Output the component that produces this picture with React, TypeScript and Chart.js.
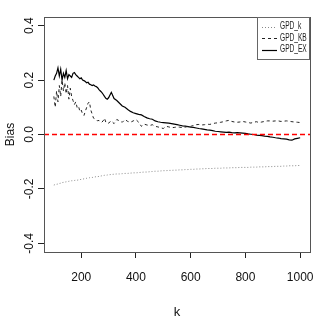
import React, { useEffect, useRef } from "react";
import { Chart, registerables } from "chart.js";
Chart.register(...registerables);

const K = [
  100, 105, 110, 115, 120, 125, 130, 135, 140, 145, 150, 155, 160, 165, 170, 175, 180, 185, 190, 195,
  200, 205, 210, 215, 220, 225, 230, 235, 240, 245, 250, 255, 260, 265, 270, 275, 280, 285, 290, 295, 300,
  310, 320, 330, 340, 350, 360, 370, 380, 390, 400, 410, 420, 430, 440, 450, 460, 470, 480, 490, 500,
  510, 520, 530, 540, 550, 560, 570, 580, 590, 600, 610, 620, 630, 640, 650, 660, 670, 680, 690, 700,
  710, 720, 730, 740, 750, 760, 770, 780, 790, 800, 810, 820, 830, 840, 850, 860, 870, 880, 890, 900,
  910, 920, 930, 940, 950, 960, 970, 980, 990, 1000,
];

const GPD_K = [
  -0.186, -0.184, -0.183, -0.182, -0.18, -0.179, -0.177, -0.176, -0.175, -0.174, -0.173, -0.172, -0.171, -0.17, -0.17, -0.169, -0.168, -0.168, -0.167, -0.166,
  -0.165, -0.164, -0.163, -0.162, -0.161, -0.16, -0.159, -0.158, -0.158, -0.157, -0.156, -0.155, -0.155, -0.154, -0.153, -0.152, -0.151, -0.15, -0.15, -0.149, -0.148,
  -0.147, -0.146, -0.145, -0.145, -0.144, -0.143, -0.143, -0.142, -0.141, -0.141, -0.14, -0.139, -0.138, -0.138, -0.137, -0.136, -0.135, -0.135, -0.134, -0.133,
  -0.133, -0.132, -0.132, -0.131, -0.131, -0.13, -0.13, -0.129, -0.129, -0.128, -0.128, -0.127, -0.127, -0.126, -0.126, -0.125, -0.125, -0.125, -0.124, -0.124,
  -0.124, -0.123, -0.123, -0.123, -0.122, -0.122, -0.122, -0.121, -0.121, -0.121, -0.121, -0.12, -0.12, -0.12, -0.119, -0.119, -0.119, -0.118, -0.118, -0.118,
  -0.117, -0.117, -0.117, -0.116, -0.116, -0.115, -0.115, -0.115, -0.114, -0.114,
];

const GPD_KB = [
  0.14, 0.1, 0.16, 0.12, 0.18, 0.14, 0.2, 0.16, 0.19, 0.15, 0.18, 0.13, 0.17, 0.14, 0.125, 0.11, 0.12, 0.1, 0.105, 0.085,
  0.09, 0.075, 0.07, 0.085, 0.1, 0.115, 0.12, 0.09, 0.075, 0.06, 0.058, 0.055, 0.05, 0.052, 0.048, 0.045, 0.05, 0.06, 0.045, 0.04, 0.042,
  0.05, 0.04, 0.055, 0.05, 0.045, 0.055, 0.048, 0.045, 0.05, 0.055, 0.045, 0.03, 0.038, 0.035, 0.033, 0.036, 0.03, 0.028, 0.025, 0.022,
  0.03, 0.028, 0.025, 0.026, 0.028, 0.027, 0.025, 0.027, 0.03, 0.03, 0.033, 0.036, 0.037, 0.035, 0.036, 0.038, 0.037, 0.04, 0.042, 0.043,
  0.045, 0.047, 0.05, 0.052, 0.048, 0.046, 0.045, 0.046, 0.048, 0.046, 0.044, 0.042, 0.045, 0.047, 0.044, 0.046, 0.048, 0.05, 0.05, 0.049,
  0.05, 0.05, 0.048, 0.049, 0.05, 0.049, 0.047, 0.046, 0.045, 0.044,
];

const GPD_EX = [
  0.2, 0.215, 0.225, 0.245, 0.215, 0.24, 0.2, 0.225, 0.21, 0.235, 0.205, 0.22, 0.215, 0.21, 0.225, 0.228, 0.22, 0.215, 0.21, 0.205,
  0.208, 0.2, 0.198, 0.195, 0.19, 0.192, 0.185, 0.183, 0.18, 0.182, 0.178, 0.176, 0.172, 0.165, 0.16, 0.155, 0.148, 0.14, 0.133, 0.13, 0.135,
  0.155, 0.132, 0.125, 0.115, 0.105, 0.1, 0.092, 0.085, 0.08, 0.077, 0.074, 0.072, 0.066, 0.061, 0.058, 0.056, 0.05, 0.047, 0.045, 0.044,
  0.043, 0.042, 0.04, 0.038, 0.036, 0.034, 0.032, 0.031, 0.029, 0.027, 0.026, 0.024, 0.022, 0.021, 0.019, 0.017, 0.016, 0.014, 0.012, 0.011,
  0.01, 0.009, 0.008, 0.009, 0.007, 0.006, 0.007, 0.006, 0.005, 0.004, 0.002, 0.001, 0.0, -0.002, -0.003, -0.004, -0.006, -0.007, -0.009, -0.01,
  -0.012, -0.013, -0.015, -0.016, -0.017, -0.02, -0.021, -0.016, -0.014, -0.012,
];

const SERIES_LABELS = ["GPD_k", "GPD_KB", "GPD_EX"];
const X_TICKS = [200, 400, 600, 800, 1000];
const Y_TICKS = [-0.4, -0.2, 0, 0.2, 0.4];
const X_TITLE = "k";
const Y_TITLE = "Bias";
const X_RANGE = [64, 1036];
const Y_RANGE = [-0.432, 0.432];
const REF_LINE = 0;

const NARROW = '"Liberation Sans Narrow", "Arial Narrow", "Liberation Sans", sans-serif';
const SANS = '"Liberation Sans", Arial, sans-serif';

const decorPlugin = {
  id: "decor",
  afterDatasetsDraw(chart: any) {
    const { ctx, chartArea: a, scales } = chart;
    const y0 = scales.y.getPixelForValue(REF_LINE);
    ctx.save();
    ctx.strokeStyle = "#ff0000";
    ctx.lineWidth = 1.5;
    ctx.setLineDash([5, 3]);
    ctx.beginPath();
    ctx.moveTo(a.left, y0);
    ctx.lineTo(a.right, y0);
    ctx.stroke();
    ctx.restore();

    // box
    ctx.save();
    ctx.strokeStyle = "#555";
    ctx.lineWidth = 1;
    ctx.strokeRect(a.left + 0.5, a.top + 0.5, a.right - a.left, a.bottom - a.top);
    ctx.restore();

    // legend
    const lx = a.right - 53;
    const ly = a.top;
    const lw = 52;
    const lh = 42;
    ctx.save();
    ctx.fillStyle = "#fff";
    ctx.fillRect(lx, ly, lw, lh);
    ctx.strokeStyle = "#666";
    ctx.lineWidth = 1;
    ctx.strokeRect(lx + 0.5, ly + 0.5, lw, lh);
    const rows = [ly + 9.5, ly + 21, ly + 32.5];
    chart.data.datasets.forEach((ds: any, i: number) => {
      const y = rows[i];
      ctx.save();
      ctx.strokeStyle = ds.borderColor;
      ctx.lineWidth = ds.borderWidth;
      ctx.setLineDash(ds.borderDash || []);
      ctx.beginPath();
      ctx.moveTo(lx + 5, Math.round(y) + 0.5);
      ctx.lineTo(lx + 20, Math.round(y) + 0.5);
      ctx.stroke();
      ctx.restore();
      ctx.save();
      ctx.fillStyle = "#222";
      ctx.font = "10px " + SANS;
      ctx.textBaseline = "middle";
      ctx.translate(lx + 23, y);
      ctx.scale(0.66, 1);
      ctx.fillText(ds.label, 0, 0);
      ctx.restore();
    });
    ctx.restore();
  },
};

export default function App() {
  const ref = useRef<HTMLCanvasElement>(null);
  useEffect(() => {
    document.body.style.margin = "0";
    const styles = [
      { color: "#888", dash: [1, 2], width: 1 },
      { color: "#222", dash: [3, 3], width: 1 },
      { color: "#000", dash: [], width: 1.2 },
    ];
    const series = [GPD_K, GPD_KB, GPD_EX];
    const chart = new Chart(ref.current as HTMLCanvasElement, {
      type: "line",
      data: {
        datasets: series.map((s, i) => ({
          label: SERIES_LABELS[i],
          data: K.map((k, j) => ({ x: k, y: s[j] })),
          borderColor: styles[i].color,
          borderDash: styles[i].dash,
          borderWidth: styles[i].width,
          pointRadius: 0,
          tension: 0,
          fill: false,
        })),
      },
      options: {
        responsive: true,
        maintainAspectRatio: false,
        animation: false,
        events: [],
        layout: { padding: { left: 0, top: 17, right: 10, bottom: 0 } },
        plugins: { legend: { display: false }, tooltip: { enabled: false } },
        scales: {
          x: {
            type: "linear",
            min: X_RANGE[0],
            max: X_RANGE[1],
            afterBuildTicks: (s: any) => {
              s.ticks = X_TICKS.map((v) => ({ value: v }));
            },
            afterFit: (s: any) => {
              s.height = 75;
              s.paddingLeft = 0;
              s.paddingRight = 0;
            },
            grid: { drawOnChartArea: false, drawTicks: true, tickLength: 6, tickColor: "#222" },
            border: { display: false },
            ticks: {
              autoSkip: false,
              maxRotation: 0,
              minRotation: 0,
              padding: 12,
              color: "#111",
              font: { family: NARROW, size: 12 },
              callback: (v: any) => String(v),
            },
            title: {
              display: true,
              text: X_TITLE,
              color: "#111",
              font: { family: NARROW, size: 13 },
              padding: { top: 0, bottom: 7 },
            },
          },
          y: {
            type: "linear",
            min: Y_RANGE[0],
            max: Y_RANGE[1],
            afterBuildTicks: (s: any) => {
              s.ticks = Y_TICKS.map((v) => ({ value: v }));
            },
            afterFit: (s: any) => {
              s.width = 44;
              s.paddingTop = 0;
              s.paddingBottom = 0;
            },
            grid: { drawOnChartArea: false, drawTicks: true, tickLength: 6, tickColor: "#222" },
            border: { display: false },
            ticks: {
              autoSkip: false,
              minRotation: 90,
              maxRotation: 90,
              crossAlign: "center",
              padding: -2,
              color: "#111",
              font: { family: SANS, size: 12 },
              callback: (v: any) => Number(v).toFixed(1),
            },
            title: {
              display: true,
              text: Y_TITLE,
              color: "#111",
              font: { family: SANS, size: 12 },
              padding: { top: 3, bottom: 0 },
            },
          },
        },
      },
      plugins: [decorPlugin],
    } as any);
    return () => chart.destroy();
  }, []);
  return (
    <div style={{ position: "absolute", left: 0, top: 0, width: 320, height: 327 }}>
      <canvas ref={ref} />
    </div>
  );
}
